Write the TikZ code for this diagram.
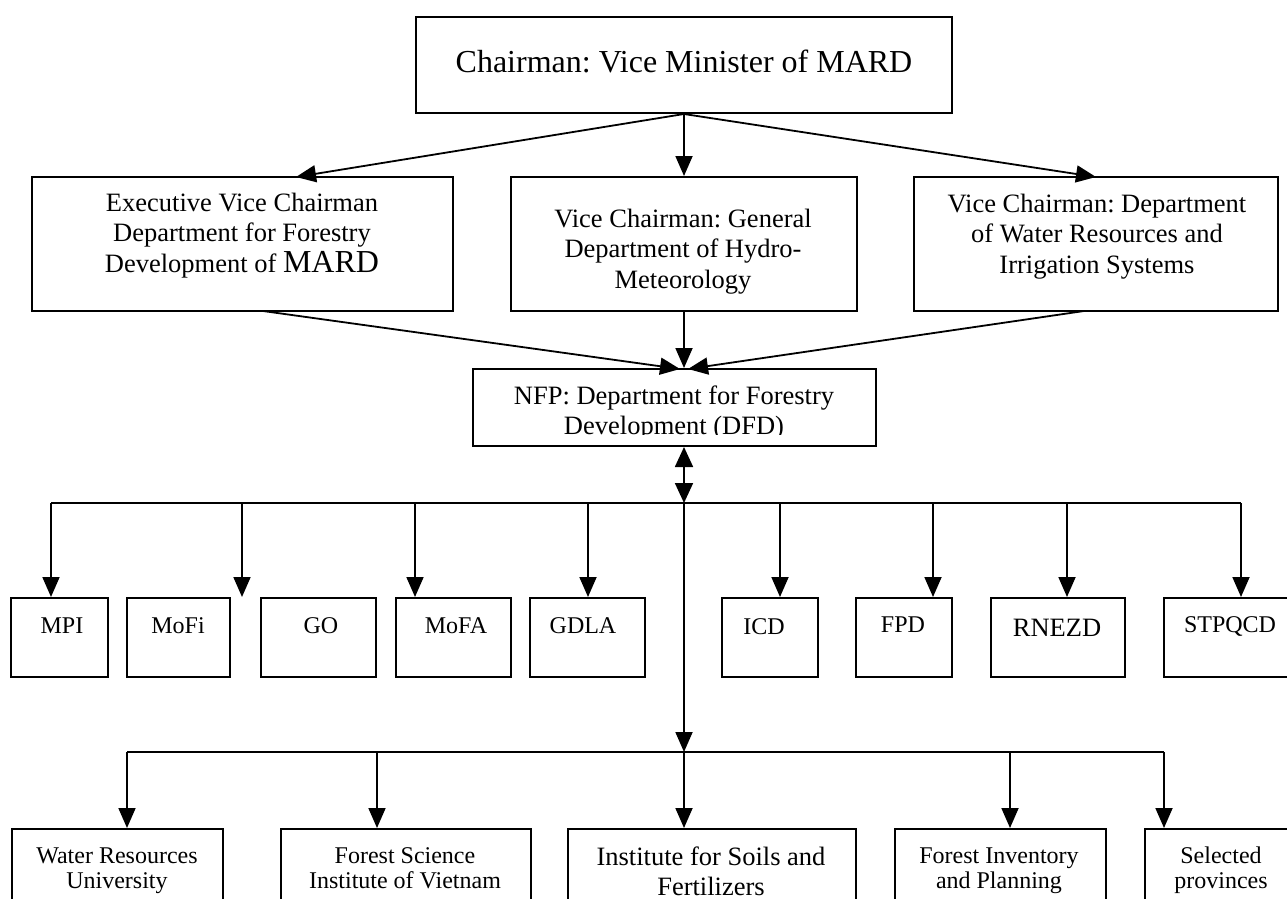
\documentclass[tikz,border=0pt]{standalone}
\usepackage{fontspec}
\setmainfont{Liberation Serif}
\usetikzlibrary{arrows.meta}
\frenchspacing
\newcommand{\boxat}[5]{\node[box, minimum width={(#4-#2)*1pt}, minimum height={(#5-#3)*1pt}] (#1) at ({(#2+#4)/2},{(#3+#5)/2}) {};}
\begin{document}
\begin{tikzpicture}[x=1pt,y=-1pt,
  box/.style={draw, line width=2pt, inner sep=0pt},
  arr/.style={line width=1.8pt, -{Triangle[length=20pt,width=17pt]}},
  dblarr/.style={line width=1.8pt, {Triangle[length=20pt,width=18pt]}-{Triangle[length=20pt,width=18pt]}},
  busa/.style={line width=2.7pt, line cap=square},
  busb/.style={line width=2.2pt, line cap=square},
  lbl/.style={anchor=base, inner sep=0pt, align=center},
  ftop/.style={font=\fontsize{32}{38}\selectfont},
  fmid/.style={font=\fontsize{26.5}{30.5}\selectfont},
  fsml/.style={font=\fontsize{24}{25}\selectfont},
  fbig/.style={font=\fontsize{26.5}{30}\selectfont}]
\useasboundingbox (0,0) rectangle (1287,899);
\fill[white] (0,0) rectangle (1287,899);

% boxes
\boxat{top}{416}{17}{952}{113}
\boxat{v1}{32}{177}{453}{311}
\boxat{v2}{511}{177}{857}{311}
\boxat{v3}{914}{177}{1278}{311}
\boxat{nfp}{473}{369}{876}{446}
\boxat{mpi}{11}{598}{108}{677}
\boxat{mofi}{127}{598}{230}{677}
\boxat{go}{261}{598}{376}{677}
\boxat{mofa}{396}{598}{511}{677}
\boxat{gdla}{530}{598}{645}{677}
\boxat{icd}{722}{598}{818}{677}
\boxat{fpd}{856}{598}{952}{677}
\boxat{rnezd}{991}{598}{1125}{677}
\boxat{stpqcd}{1164}{598}{1295}{677}
\boxat{wru}{12}{829}{223}{910}
\boxat{fsiv}{281}{829}{531}{910}
\boxat{isf}{568}{829}{856}{910}
\boxat{fip}{895}{829}{1106}{910}
\boxat{sp}{1145}{829}{1295}{910}

% texts (anchor base = baseline of the last line)
\node[lbl, ftop] (ttop) at (684,73) {Chairman: Vice Minister of MARD};
\node[lbl, fmid] (tv1) at (242,272) {Executive Vice Chairman\\Department for Forestry\\Development of {\fontsize{32}{30.5}\selectfont MARD}};
\node[lbl, fmid] (tv2) at (683,288) {Vice Chairman: General\\Department of Hydro-\\Meteorology};
\node[lbl, fmid] (tv3) at (1097,273) {Vice Chairman: Department\\of Water Resources and\\Irrigation Systems};
\begin{scope}
\clip (473,369) rectangle (876,434);
\node[lbl, fbig] (tnfp) at (674,434) {NFP: Department for Forestry\\Development (DFD)};
\end{scope}
\node[lbl, fsml] (tmpi) at (62,633) {MPI};
\node[lbl, fsml] (tmofi) at (178,633) {MoFi};
\node[lbl, fsml] (tgo) at (321,633) {GO};
\node[lbl, fsml] (tmofa) at (456,633) {MoFA};
\node[lbl, fsml] (tgdla) at (583,633) {GDLA};
\node[lbl, fsml] (ticd) at (764,634) {ICD};
\node[lbl, fsml] (tfpd) at (903,632) {FPD};
\node[lbl, fbig] (trnezd) at (1057,636) {RNEZD};
\node[lbl, fsml] (tstpqcd) at (1230,632) {STPQCD};
\node[lbl, fsml] (twru) at (117,888) {Water Resources\\University};
\node[lbl, fsml] (tfsiv) at (405,888) {Forest Science\\Institute of Vietnam};
\node[lbl, fbig] (tisf) at (711,895) {Institute for Soils and\\Fertilizers};
\node[lbl, fsml] (tfip) at (999,888) {Forest Inventory\\and Planning};
\node[lbl, fsml] (tsp) at (1221,888) {Selected\\provinces};

% coordinates
\coordinate (a1) at (296,177);
\coordinate (a3) at (1096,177);
\coordinate (v1o) at (263,311);
\coordinate (v3o) at (1084,311);
\coordinate (n1) at (680,369);
\coordinate (n3) at (688,369);
\coordinate (c1) at (684,503);
\coordinate (c2) at (684,752);
\foreach \n/\x in {1/51,2/242,3/415,4/588,5/780,6/933,7/1067,8/1241}
  \coordinate (d\n) at (\x,503);
\foreach \n/\x in {1/127,2/377,3/684,4/1010,5/1164}
  \coordinate (e\n) at (\x,752);

% connectors top
\draw[arr] (top.south) -- (a1);
\draw[arr] (top.south) -- (v2.north);
\draw[arr] (top.south) -- (a3);
\draw[arr] (v1o) -- (n1);
\draw[arr] (v2.south) -- (v2.south |- nfp.north);
\draw[arr] (v3o) -- (n3);
\draw[dblarr] (c1 |- nfp.south) -- (c1);

% bus 1
\draw[busa] (d1) -- (d8);
\draw[arr] (d1) -- (d1 |- mpi.north);
\draw[arr] (d2) -- (d2 |- mofi.north);
\draw[arr] (d3) -- (d3 |- mofa.north);
\draw[arr] (d4) -- (d4 |- gdla.north);
\draw[arr] (d5) -- (d5 |- icd.north);
\draw[arr] (d6) -- (d6 |- fpd.north);
\draw[arr] (d7) -- (d7 |- rnezd.north);
\draw[arr] (d8) -- (d8 |- stpqcd.north);
\draw[arr] (c1) -- (c2);

% bus 2
\draw[busb] (e1) -- (e5);
\draw[arr] (e1) -- (e1 |- wru.north);
\draw[arr] (e2) -- (e2 |- fsiv.north);
\draw[arr] (e3) -- (e3 |- isf.north);
\draw[arr] (e4) -- (e4 |- fip.north);
\draw[arr] (e5) -- (e5 |- sp.north);
\end{tikzpicture}
\end{document}
